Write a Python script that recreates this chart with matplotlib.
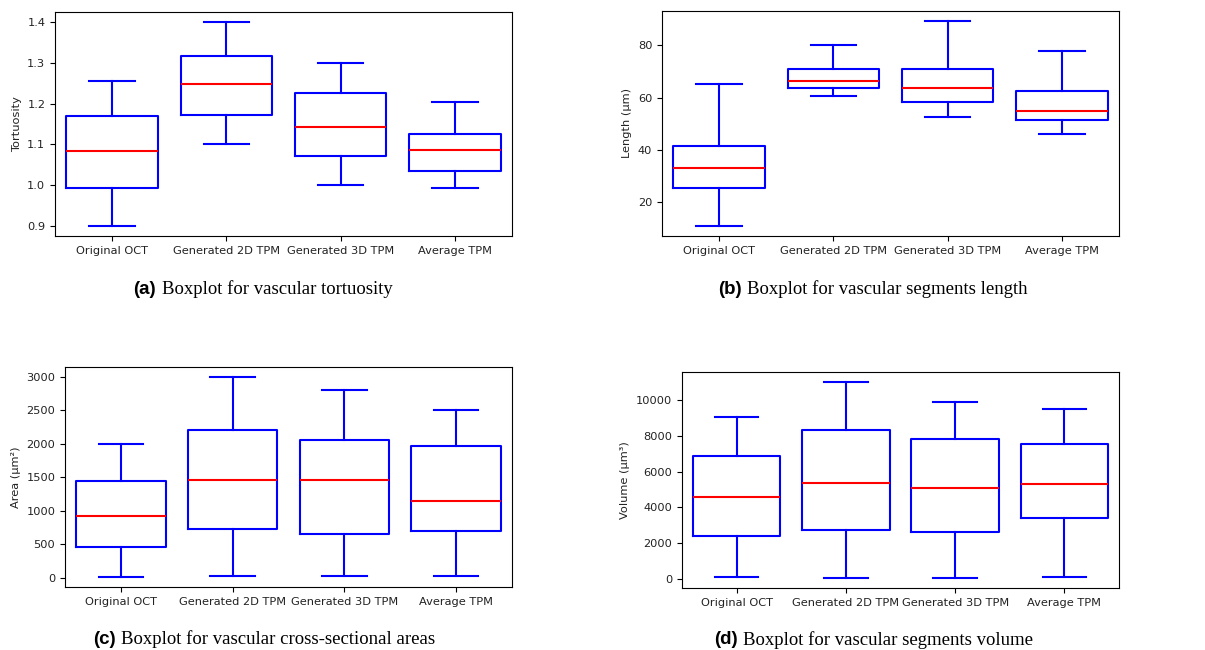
import matplotlib.pyplot as plt
from matplotlib.ticker import MultipleLocator

groups = ['Original OCT', 'Generated 2D TPM', 'Generated 3D TPM', 'Average TPM']

# (a) tortuosity
tort_whislo = [0.900, 1.100, 1.000, 0.993]
tort_q1 = [0.993, 1.171, 1.072, 1.035]
tort_med = [1.083, 1.247, 1.143, 1.087]
tort_q3 = [1.169, 1.316, 1.226, 1.125]
tort_whishi = [1.256, 1.400, 1.300, 1.203]

# (b) segment length
len_whislo = [11.1, 60.5, 52.8, 46.2]
len_q1 = [25.4, 63.7, 58.4, 51.5]
len_med = [33.0, 66.2, 63.8, 55.1]
len_q3 = [41.5, 70.8, 70.8, 62.4]
len_whishi = [65.3, 80.0, 89.2, 78.0]

# (c) cross-sectional area
area_whislo = [10, 20, 20, 20]
area_q1 = [465, 735, 650, 695]
area_med = [925, 1465, 1465, 1150]
area_q3 = [1450, 2210, 2065, 1975]
area_whishi = [2000, 3000, 2800, 2505]

# (d) segment volume
vol_whislo = [130, 37, 37, 130]
vol_q1 = [2407, 2743, 2649, 3414]
vol_med = [4590, 5336, 5075, 5280]
vol_q3 = [6884, 8302, 7836, 7519]
vol_whishi = [9049, 11026, 9907, 9515]

W, H = 1205, 650
fig = plt.figure(figsize=(W / 100, H / 100), dpi=100)


def px_axes(left, top, right, bottom):
    return fig.add_axes([left / W, 1 - bottom / H, (right - left) / W, (bottom - top) / H])


def draw(ax, lo, q1, med, q3, hi, ylabel, step):
    stats = []
    for i in range(len(groups)):
        stats.append(dict(label=groups[i], whislo=lo[i], q1=q1[i], med=med[i],
                          q3=q3[i], whishi=hi[i], fliers=[]))
    ax.bxp(stats, widths=0.8, showfliers=False,
           boxprops=dict(color='blue', linewidth=1.5),
           whiskerprops=dict(color='blue', linewidth=1.5),
           capprops=dict(color='blue', linewidth=1.5),
           medianprops=dict(color='red', linewidth=1.5))
    ax.yaxis.set_major_locator(MultipleLocator(step))
    ax.set_ylabel(ylabel, fontsize=8.2, color='#222222')
    ax.tick_params(labelsize=8.2, labelcolor='#222222')


ax_a = px_axes(55, 12, 512, 236)
draw(ax_a, tort_whislo, tort_q1, tort_med, tort_q3, tort_whishi, 'Tortuosity', 0.1)

ax_b = px_axes(662, 11, 1119, 236)
draw(ax_b, len_whislo, len_q1, len_med, len_q3, len_whishi, 'Length (µm)', 20)

ax_c = px_axes(65, 367, 512, 587)
draw(ax_c, area_whislo, area_q1, area_med, area_q3, area_whishi, 'Area (µm²)', 500)

ax_d = px_axes(682, 372, 1119, 588)
draw(ax_d, vol_whislo, vol_q1, vol_med, vol_q3, vol_whishi, 'Volume (µm³)', 2000)

captions = [
    ('(a)', 'Boxplot for vascular tortuosity', 133, 162, 289),
    ('(b)', 'Boxplot for vascular segments length', 718, 747, 289),
    ('(c)', 'Boxplot for vascular cross-sectional areas', 93, 121, 639),
    ('(d)', 'Boxplot for vascular segments volume', 714, 743, 640),
]
for tag, text, x_tag, x_text, y in captions:
    fig.text(x_tag / W, 1 - y / H, tag, family='Liberation Sans', fontweight='bold',
             fontsize=13.5, ha='left', va='center')
    fig.text(x_text / W, 1 - y / H, text, family='Liberation Serif',
             fontsize=13.5, ha='left', va='center')

fig.savefig('out.png', dpi=100)
